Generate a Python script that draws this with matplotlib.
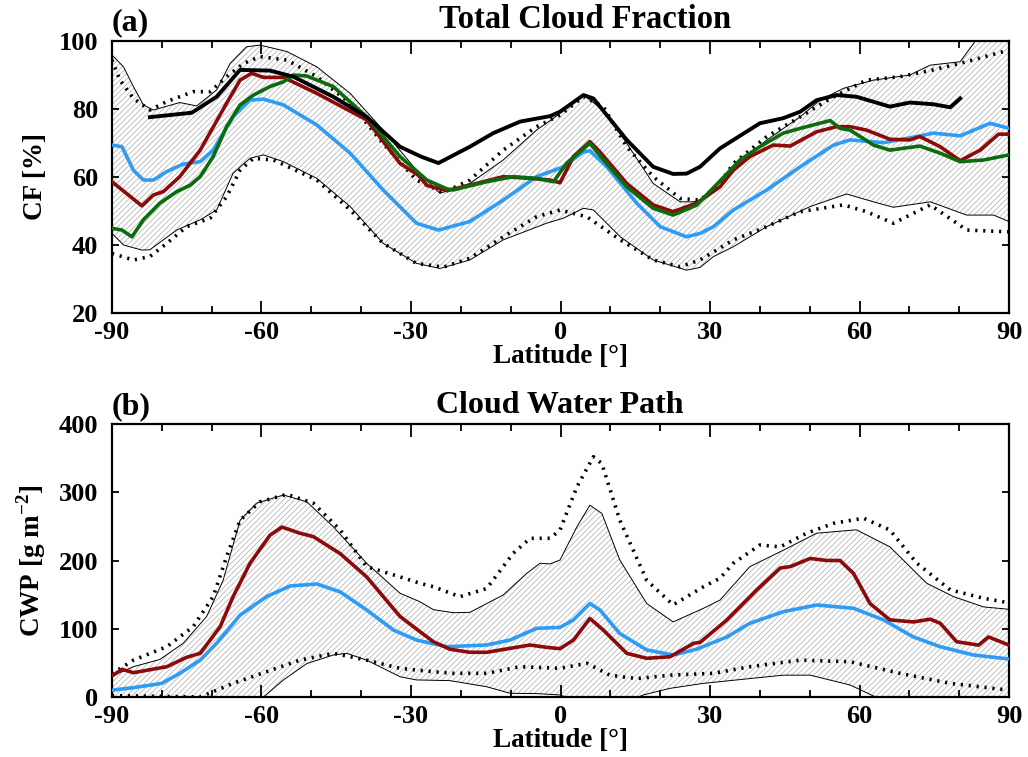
import numpy as np
import matplotlib
matplotlib.use("Agg")
import matplotlib.pyplot as plt
from matplotlib.ticker import MultipleLocator

plt.rcParams['font.family'] = ['Liberation Serif', 'DejaVu Serif']
plt.rcParams['font.weight'] = 'bold'
plt.rcParams['axes.unicode_minus'] = False
plt.rcParams['mathtext.fontset'] = 'custom'
plt.rcParams['mathtext.rm'] = 'Liberation Serif:bold'
plt.rcParams['mathtext.bf'] = 'Liberation Serif:bold'
plt.rcParams['hatch.linewidth'] = 0.5

# ---------------- Panel (a): Total Cloud Fraction ----------------
a_black_lat = [-82.4, -74, -69, -64.3, -58.3, -53.6, -45.6, -38.9, -32.2, -28, -24.5, -18.2, -13.5, -8.1, -2.1, -0.1,
               4.6, 6.6, 13.3, 18.6, 22.6, 25.3, 28, 32, 34.7, 40, 44.7, 48.1, 51.4, 55.4, 59.4, 66.1, 70.1, 74.8, 78.2, 80.2]
a_black_cf = [77.6, 78.9, 83.6, 91.5, 91.3, 89.5, 83.6, 77.7, 68.9, 66, 64.1, 68.9, 72.9, 76.3, 77.9, 79.2,
              84.1, 83.1, 70.9, 63, 60.9, 61, 63, 68.4, 70.9, 75.8, 77.3, 79.2, 82.6, 84.1, 83.6, 80.7, 81.9, 81.4, 80.5, 83.1]

a_blue_lat = [-90, -88, -85.7, -83.7, -81.7, -79, -75.7, -72.3, -69.7, -65.7, -62.3, -59.6, -55.6, -48.9, -42.2, -35.6,
              -28.9, -24.5, -18.2, -11.5, -4.8, 0.6, 4.6, 5.9, 9.3, 15.3, 20, 25.3, 28, 30.7, 34.7, 41.4, 48.1, 54.8, 58.1,
              64.8, 71.5, 74.8, 80.2, 86.2, 90]
a_blue_cf = [69.4, 68.9, 62, 59.1, 59.1, 61.6, 63.8, 64.5, 67.9, 77.7, 82.6, 82.9, 81.2, 75.3, 67, 56.2,
             46.4, 44.4, 46.9, 53.2, 60.1, 63, 67.4, 67.7, 63, 52.3, 45.4, 42.4, 43.4, 45.4, 50.3, 56.2, 63, 69.4, 70.9,
             70.1, 71.9, 72.9, 72.1, 75.8, 74.3]

a_red_lat = [-90, -84, -81.7, -79.7, -76.4, -72.3, -67, -64.3, -62, -59.6, -55.6, -48.9, -38.9, -32.2, -28.5, -26.8, -22.8,
             -18.2, -11.5, -6.1, -2.1, -0.1, 2.6, 5.9, 7.9, 13.3, 18.6, 22.6, 27.3, 32, 34.7, 38, 42.7, 46.1, 51.4, 55.4,
             58.1, 61.4, 66.1, 70.1, 72.1, 76.2, 80.2, 84.2, 87.9, 90]
a_red_cf = [58.6, 51.5, 54.7, 55.7, 60.1, 67.9, 81.7, 88.5, 90.5, 89.3, 89.3, 84.6, 76.8, 64, 60.5, 57.5, 56,
            57.6, 60.1, 59.6, 59.1, 58.3, 66, 70.4, 67.4, 58.1, 51.8, 49.8, 52.3, 57.1, 62, 66, 69.4, 69.1, 73.3, 74.8,
            74.8, 73.8, 71.1, 70.9, 71.9, 68.9, 64.8, 67.9, 72.6, 72.6]

a_green_lat = [-90, -88, -86, -83.7, -80.4, -77, -74.3, -72.3, -69.7, -67, -64.3, -61.6, -58.3, -55.6, -53.6, -50.9, -45.6,
               -38.9, -32.2, -26.8, -22.8, -21.5, -14.8, -9.5, -4.8, -1.4, 1.2, 5.9, 7.9, 13.3, 18.6, 22.6, 27.3, 32, 36,
               40, 44.7, 48.1, 54.1, 56.1, 58.1, 62.8, 66.1, 72.1, 76.2, 80.2, 84.9, 90]
a_green_cf = [44.9, 44.4, 42.4, 47.4, 52.3, 55.7, 57.6, 60.1, 66, 74.8, 81.2, 84.1, 86.6, 88, 90, 89.7, 86.6,
              77.7, 66, 59.1, 56.5, 56.2, 58.6, 60.1, 59.6, 58.6, 64, 69.9, 66.3, 57.1, 50.8, 48.8, 51.7, 58.8, 65,
              68.9, 72.9, 74.3, 76.6, 74.3, 73.8, 69.4, 67.9, 69.1, 67, 64.5, 65, 66.5]

a_env_up_lat = [-90, -87.7, -85.7, -83.7, -81.7, -76.4, -73, -69, -66.3, -63, -60.3, -54.9, -48.9, -42.2, -35.6, -28.9,
                -24.2, -18.2, -11.5, -4.8, -1.4, 1.2, 4.6, 8.6, 13.3, 18.6, 24, 26.6, 28, 32, 34.7, 41.4, 48.1, 52.1,
                56.8, 62.8, 70.1, 74.2, 80.2, 83.5, 90]
a_env_up = [95.9, 92.4, 86.6, 81.2, 79.7, 81.9, 80.9, 85.6, 93.4, 98.3, 98.8, 96.9, 92.4, 84.6, 73.8, 62,
            55.2, 58.1, 65, 73.8, 77.3, 80.2, 84.1, 79.7, 69.9, 58.1, 52.7, 52.7, 53, 59.1, 63, 70.9, 77.7, 82.6,
            86.1, 88.5, 90, 92.9, 93.9, 100.5, 108]
a_env_lo_lat = [-90, -87.7, -84, -82.4, -77, -72.3, -69, -65.7, -62.3, -59.6, -55.6, -48.9, -42.2, -35.6, -28.9, -24.2,
                -18.2, -11.5, -2.8, 0.6, 4.6, 6.6, 12, 18.6, 25.3, 28, 30.7, 34.7, 41.4, 50.1, 57.4, 62.8, 66.8, 74.2,
                81.5, 86.9, 90]
a_env_lo = [43.4, 40, 38.5, 38.6, 44.4, 47.4, 50.3, 61.1, 65.5, 66.5, 64.5, 59.6, 51.3, 40.5, 34.6, 33.1,
            35.6, 41.5, 46.4, 47.9, 50.8, 50.3, 42.4, 35.6, 32.6, 33.4, 36.6, 39.5, 45.4, 51.3, 55, 52.7, 51.1, 52.7,
            48.8, 48.8, 46.9]

a_dot_up_lat = [-90, -88.4, -85.7, -82.4, -79, -73.7, -70.3, -67, -63.6, -60.3, -54.9, -48.9, -42.2, -35.6, -28.9, -23.5,
                -18.2, -11.5, -4.8, -0.1, 4.6, 8.6, 13.3, 18.6, 24, 28, 32, 34.7, 41.4, 48.1, 54.8, 61.4, 68.1, 74.8,
                81.5, 88.9, 90]
a_dot_up = [94.4, 88.5, 83.1, 79.7, 82.2, 85.1, 85.1, 89.5, 93.4, 95.4, 94.4, 89.5, 81.7, 69.9, 59.1, 55.4,
            59.1, 67.9, 74.8, 78.2, 83.6, 80.7, 68.9, 60.1, 53.7, 53.2, 58.1, 64, 71.9, 77.7, 83.6, 88.5, 89.5, 91.5,
            93.9, 96.9, 97]
a_dot_lo_lat = [-90, -85.7, -82.4, -79, -75, -70.3, -67, -64.3, -61.6, -57.6, -48.9, -42.2, -35.6, -28.9, -23.5, -18.2,
                -11.5, -4.8, -0.1, 5.3, 12, 18.6, 24, 28, 34.7, 41.4, 48.1, 56.8, 61.4, 66.8, 74.2, 81.5, 89.5, 90]
a_dot_lo = [37.5, 35.6, 36.6, 40.5, 45.4, 47.9, 54.2, 62, 65.5, 65, 59.1, 50.3, 40.5, 34.6, 33.5, 36.1,
            42.4, 48.3, 50.3, 48.3, 41.5, 35.6, 33.6, 35.6, 41.5, 45.4, 49.8, 51.8, 49.8, 46.4, 51.8, 44.4, 43.9, 43.9]

# ---------------- Panel (b): Cloud Water Path ----------------
b_red_lat = [-90, -88, -85.7, -79, -75, -72.3, -68.3, -65.7, -62.3, -58.3, -55.9, -52.3, -49.6, -44.2, -38.9, -32.2,
             -28.2, -25.5, -22.2, -18.2, -14.8, -10.1, -6.1, -2.8, -0.1, 2.6, 5.9, 8.6, 13.3, 17.3, 22, 26.7, 28, 33.4,
             39.4, 44.1, 46.1, 50.1, 53.4, 56.1, 58.8, 62.1, 66.1, 70.8, 74.2, 76.2, 79.5, 83.9, 85.9, 90]
b_red = [30.8, 40.6, 35.6, 44.4, 58.2, 64, 103, 147, 196, 237, 249, 240, 235, 210, 176, 118,
         95.7, 81, 70, 65.5, 65.5, 71.3, 76.2, 72.8, 70.8, 83.5, 115, 98, 64, 56.7, 59, 78.7, 80, 113,
         157, 189, 191, 203, 200, 200, 181, 137, 113, 110, 114, 108, 81, 76, 88, 76]

b_blue_lat = [-90, -85.7, -80, -76.4, -72.3, -69, -64.3, -59, -54.3, -48.9, -44.2, -38.9, -33.5, -28.9, -22.8, -14.8,
              -10.1, -4.8, -0.1, 2.6, 5.9, 7.9, 11.9, 17.3, 22.6, 27.3, 33.4, 38, 44.7, 51.4, 58.8, 64.8, 70.8, 76.2,
              82.9, 90]
b_blue = [10, 13.7, 20, 34.7, 54, 78.7, 120, 147, 162.6, 165.6, 154, 127.5, 98, 83.5, 73.7, 76.2,
          83.5, 100.6, 102, 113, 137, 127.5, 93, 69, 61.5, 70, 88, 108, 125, 134.8, 130, 113, 88, 73.7,
          61.5, 55.7]

b_env_up_lat = [-90, -85.7, -80.4, -75.7, -71, -67.7, -64.3, -61, -55.6, -50.9, -45.6, -38.9, -32.2, -28.2, -25.5, -21.5,
                -18.2, -11.5, -6.8, -4.1, -2.1, -0.1, 3.3, 5.9, 8.3, 11.9, 17.3, 22.6, 28.7, 32, 38, 44.7, 51.4, 59.4,
                66.1, 73.5, 78.9, 84.9, 90]
b_env_up = [30.8, 44.4, 55, 78.7, 118, 171, 259, 284, 296, 286, 249.5, 196, 152, 139.6, 128, 123.5,
            124, 149.5, 181, 196, 195, 200.7, 249.5, 281, 269, 200.7, 137, 110, 130, 142, 191, 215, 240, 245,
            220, 166.6, 147, 132, 128.5]
b_env_lo_lat = [-90, -70, -62, -59.6, -55.6, -50.9, -45.6, -42.9, -38.9, -32.2, -28.9, -22.2, -14.8, -10.1, -4.8, -0.1,
                3, 10, 14, 16.6, 22, 28.7, 38, 44.7, 50.1, 58.1, 62.8, 66, 90]
b_env_lo = [-30, -30, -10, 0, 25, 49, 61.5, 64, 54, 29.7, 25, 24, 15, 5.4, 5, 3,
            -5, -10, -5, 3, 12.7, 20, 27, 32, 32, 17.6, 1.5, -10, -20]

b_dot_up_lat = [-90, -85.7, -79, -73.7, -69.7, -67, -64.3, -60.3, -54.9, -49.6, -44.2, -38.9, -32.2, -28.2, -25.5, -20.2,
                -14.8, -9.5, -6.1, -2.1, -0.1, 3.3, 6.6, 8.3, 11.9, 17.3, 22.6, 28.7, 32, 34.7, 40, 44.1, 49.4, 54.8,
                60.8, 66.1, 71.5, 78.2, 84.9, 90]
b_dot_up = [34, 54, 73.7, 103, 147, 205.6, 259, 286, 297, 284, 244.7, 191, 176, 166.6, 161.6, 147,
            159, 210.5, 232.5, 232.5, 244.7, 308, 352, 342, 259, 171, 135, 161.6, 174, 196, 222.7, 220, 240, 254.5,
            262, 244.7, 196, 157, 144.6, 138]
b_dot_lo_lat = [-90, -80, -72.3, -65.7, -59, -52.3, -45.6, -38.9, -32.2, -25.5, -21.5, -14.8, -8.1, -0.1, 5.3, 9.9,
                15.3, 22, 30.7, 38, 48.1, 58.1, 68.1, 78.2, 90]
b_dot_lo = [2, 1, 0, 20, 37, 54, 64, 54, 42, 37, 34.7, 34.7, 44.4, 42, 49.4, 32,
            27, 32, 34.7, 44.4, 54, 51.7, 34.7, 20, 10]

xticks = [-90, -60, -30, 0, 30, 60, 90]
a_yticks = [20, 40, 60, 80, 100]
b_yticks = [0, 100, 200, 300, 400]

C_BLUE = '#2e9cf5'
C_RED = '#8b0a0a'
C_GREEN = '#0c6b0c'

W, H = 1028, 757
fig = plt.figure(figsize=(W / 100, H / 100), dpi=100)


def px_axes(l, t, r, b):
    return fig.add_axes([l / W, 1 - b / H, (r - l) / W, (b - t) / H])


ax1 = px_axes(112, 41, 1009, 313)
ax2 = px_axes(112, 424, 1009, 697)


def envelope(ax, lat_up, up, lat_lo, lo):
    xs = np.concatenate([lat_up, lat_lo[::-1]])
    ys = np.concatenate([up, lo[::-1]])
    ax.fill(xs, ys, facecolor='white', edgecolor='#ababab', linewidth=0, hatch='//////', zorder=1)
    ax.plot(lat_up, up, color='black', lw=0.7, zorder=2)
    ax.plot(lat_lo, lo, color='black', lw=0.7, zorder=2)


def style(ax, yticks, ylim):
    ax.set_xlim(-90, 90)
    ax.set_ylim(*ylim)
    ax.set_xticks(xticks)
    ax.xaxis.set_minor_locator(MultipleLocator(10))
    ax.set_yticks(yticks)
    ax.tick_params(axis='x', which='major', direction='in', length=9, width=1.3, top=True,
                   labelsize=19, pad=6)
    ax.tick_params(axis='x', which='minor', direction='in', length=5, width=1.3, top=True)
    ax.tick_params(axis='y', which='major', direction='in', length=5, width=1.3, right=True,
                   labelsize=19, pad=10)
    for s in ax.spines.values():
        s.set_linewidth(1.6)
    for lab in ax.get_xticklabels() + ax.get_yticklabels():
        lab.set_fontweight('bold')
    ax.set_xlabel('Latitude [°]', fontsize=19.5, fontweight='bold', labelpad=0)
    ax.yaxis.set_label_coords(-0.071, 0.5)


# Panel (a)
envelope(ax1, np.array(a_env_up_lat), np.array(a_env_up), np.array(a_env_lo_lat), np.array(a_env_lo))
ax1.plot(a_dot_up_lat, a_dot_up, color='black', lw=2.6, ls=(0, (0.6, 1.6)), zorder=3)
ax1.plot(a_dot_lo_lat, a_dot_lo, color='black', lw=2.6, ls=(0, (0.6, 1.6)), zorder=3)
ax1.plot(a_blue_lat, a_blue_cf, color=C_BLUE, lw=2.6, zorder=4)
ax1.plot(a_red_lat, a_red_cf, color=C_RED, lw=2.6, zorder=5)
ax1.plot(a_green_lat, a_green_cf, color=C_GREEN, lw=2.6, zorder=6)
ax1.plot(a_black_lat, a_black_cf, color='black', lw=2.8, zorder=7)
style(ax1, a_yticks, (20, 100))
ax1.set_ylabel('CF [%]', fontsize=19.5, fontweight='bold')

# Panel (b)
envelope(ax2, np.array(b_env_up_lat), np.array(b_env_up), np.array(b_env_lo_lat), np.array(b_env_lo))
ax2.plot(b_dot_up_lat, b_dot_up, color='black', lw=2.6, ls=(0, (0.6, 1.6)), zorder=3)
ax2.plot(b_dot_lo_lat, b_dot_lo, color='black', lw=2.6, ls=(0, (0.6, 1.6)), zorder=3)
ax2.plot(b_blue_lat, b_blue, color=C_BLUE, lw=2.6, zorder=4)
ax2.plot(b_red_lat, b_red, color=C_RED, lw=2.6, zorder=5)
style(ax2, b_yticks, (0, 400))
ax2.set_ylabel('CWP [g m$^{\\mathbf{-2}}$]', fontsize=19.5, fontweight='bold')

# Titles and panel letters
fig.text(585 / W, 1 - 28 / H, 'Total Cloud Fraction', ha='center', va='baseline', fontsize=23.5, fontweight='bold')
fig.text(560 / W, 1 - 413 / H, 'Cloud Water Path', ha='center', va='baseline', fontsize=23, fontweight='bold')
fig.text(112 / W, 1 - 30 / H, '(a)', ha='left', va='baseline', fontsize=23, fontweight='bold')
fig.text(112 / W, 1 - 414 / H, '(b)', ha='left', va='baseline', fontsize=23, fontweight='bold')

fig.savefig('out.png', dpi=100)
